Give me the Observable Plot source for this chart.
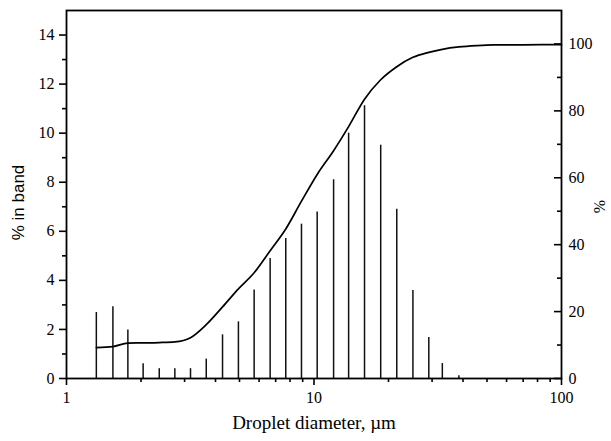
<!DOCTYPE html>
<html><head><meta charset="utf-8">
<script src="https://cdn.jsdelivr.net/npm/d3@7"></script>
<script src="https://cdn.jsdelivr.net/npm/@observablehq/plot@0.6"></script>
<style>body{margin:0;background:#fff}</style>
</head><body><div id="chart"></div>
<script>
// Band centres (droplet diameter, µm) and % in band
const diameters = [1.32,1.54,1.77,2.04,2.37,2.74,3.17,3.67,4.27,4.95,5.73,6.65,7.69,8.90,10.3,12.0,13.8,16.0,18.6,21.6,25.1,29.1,33.0,38.5];
const bandPercent = [2.69,2.92,1.98,0.60,0.40,0.40,0.40,0.79,1.78,2.31,3.61,4.89,5.71,6.29,6.79,8.10,10.0,11.12,9.51,6.90,3.59,1.67,0.61,0.11];
// Cumulative curve (right axis, %)
const curveDiameters = [1.32,1.54,1.77,2.04,2.37,2.74,3.17,3.67,4.27,4.95,5.73,6.65,7.69,8.90,10.3,12.0,13.8,16.0,18.6,21.6,25.1,29.1,33.0,38.5,45.6,53.3,70,100];
const cumulativePercent = [9.25,9.55,10.6,10.66,10.75,10.95,12.2,16.1,21.4,26.8,31.6,38.2,44.7,53.0,61.0,68.1,75.3,83.5,89.3,93.2,96.0,97.5,98.4,99.1,99.5,99.7,99.75,99.8];
// Axis ticks
const leftTicks = [0,2,4,6,8,10,12,14];
const leftMinor = [1,3,5,7,9,11,13];
const rightTicks = [0,20,40,60,80,100];
const rightMinor = [10,30,50,70,90];
const xTicks = [1,10,100];
const xMinor = [2,3,4,5,6,7,8,9,20,30,40,50,60,70,80,90];
const LEFT_MAX = 15, RIGHT_MAX = 110;
const toLeft = v => v * LEFT_MAX / RIGHT_MAX;

const bars = diameters.map((d, i) => ({d, v: bandPercent[i]}));
const curve = curveDiameters.map((d, i) => ({d, c: cumulativePercent[i]}));

const serif = "'Liberation Serif', 'Times New Roman', serif";
const plot = Plot.plot({
  width: 611, height: 441,
  marginLeft: 66, marginRight: 50, marginTop: 10, marginBottom: 63,
  x: {type: "log", domain: [1, 100], label: null},
  y: {domain: [0, LEFT_MAX], label: null},
  style: {fontFamily: serif, fontSize: "16px", color: "#000", background: "#fff"},
  marks: [
    Plot.ruleX(bars, {x: "d", y1: 0, y2: "v", stroke: "#111", strokeWidth: 1.5}),
    Plot.line(curve, {x: "d", y: d => toLeft(d.c), curve: "monotone-x", stroke: "#000", strokeWidth: 1.7}),
    Plot.frame({stroke: "#000", strokeWidth: 1.8}),
    Plot.axisY({ticks: leftTicks, tickSize: 7, tickPadding: 5, label: null, strokeWidth: 1.6, fontSize: 16}),
    Plot.axisY({ticks: leftMinor, tickSize: 4, tickFormat: () => "", label: null, strokeWidth: 1.6}),
    Plot.axisY({anchor: "right", ticks: rightTicks.map(toLeft), tickFormat: d => String(Math.round(d * RIGHT_MAX / LEFT_MAX)), tickSize: -8, tickPadding: 15, label: null, strokeWidth: 1.6, fontSize: 16}),
    Plot.axisY({anchor: "right", ticks: rightMinor.map(toLeft), tickFormat: () => "", tickSize: -5, label: null, strokeWidth: 1.6}),
    Plot.axisX({ticks: xTicks, tickFormat: d => String(d), tickSize: 7, tickPadding: 6, label: null, strokeWidth: 1.6, fontSize: 16}),
    Plot.axisX({ticks: xMinor, tickFormat: () => "", tickSize: 4, label: null, strokeWidth: 1.6}),
    Plot.text(["% in band"], {frameAnchor: "left", textAnchor: "middle", text: d => d, rotate: -90, dx: -48, dy: 8, fontFamily: "'Liberation Sans', Arial, sans-serif", fontSize: 17}),
    Plot.text(["%"], {frameAnchor: "right", textAnchor: "middle", text: d => d, rotate: -90, dx: 38, dy: 12, fontFamily: serif, fontSize: 16}),
    Plot.text(["Droplet diameter, \u00b5m"], {frameAnchor: "bottom", textAnchor: "middle", text: d => d, dy: 50, fontFamily: serif, fontSize: 19})
  ]
});
document.getElementById("chart").appendChild(plot);
</script>
</body></html>
